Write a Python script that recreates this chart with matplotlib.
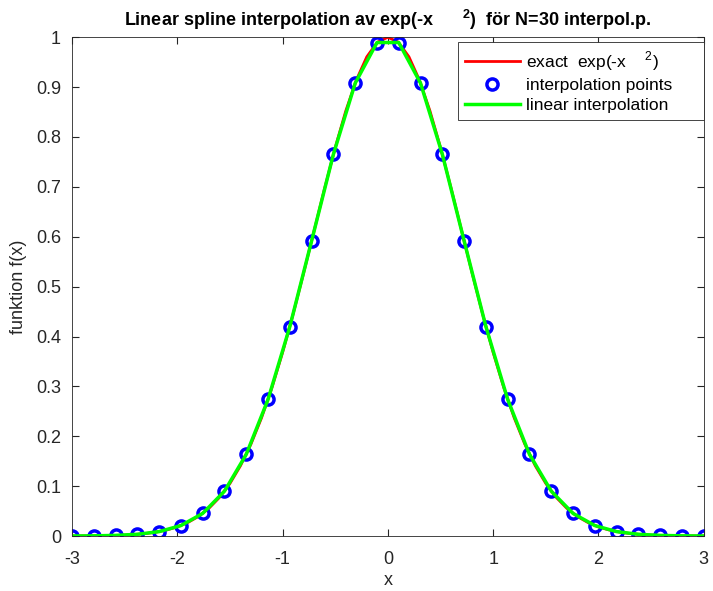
import numpy as np
import matplotlib.pyplot as plt

plt.rcParams['font.family'] = ['Liberation Sans', 'DejaVu Sans']
plt.rcParams['mathtext.fontset'] = 'custom'
plt.rcParams['mathtext.rm'] = 'Liberation Sans'
plt.rcParams['mathtext.bf'] = 'Liberation Sans:bold'
plt.rcParams['axes.unicode_minus'] = False

# exact curve exp(-x^2), read at x = 0, 0.1, ..., 3 (symmetric)
x_half = [0.0, 0.1, 0.2, 0.3, 0.4, 0.5, 0.6, 0.7, 0.8, 0.9, 1.0,
          1.1, 1.2, 1.3, 1.4, 1.5, 1.6, 1.7, 1.8, 1.9, 2.0,
          2.1, 2.2, 2.3, 2.4, 2.5, 2.6, 2.7, 2.8, 2.9, 3.0]
y_half = [1.0, 0.9900, 0.9608, 0.9139, 0.8521, 0.7788, 0.6977, 0.6126, 0.5273, 0.4449, 0.3679,
          0.2982, 0.2369, 0.1845, 0.1409, 0.1054, 0.0773, 0.0556, 0.0392, 0.0271, 0.0183,
          0.0122, 0.0079, 0.0050, 0.0032, 0.0019, 0.0012, 0.0007, 0.0004, 0.0002, 0.0001]

# interpolation points (left half, mirrored)
xp_half = [-3.0, -2.793, -2.586, -2.379, -2.172, -1.966, -1.759, -1.552,
           -1.345, -1.138, -0.931, -0.724, -0.517, -0.310, -0.103]
yp_half = [0.0001, 0.0004, 0.0013, 0.0035, 0.0089, 0.0210, 0.0453, 0.0899,
           0.1638, 0.2739, 0.4200, 0.5920, 0.7656, 0.9080, 0.9894]

x_exact = np.concatenate([-np.array(x_half[::-1]), np.array(x_half[1:])])
y_exact = np.concatenate([np.array(y_half[::-1]), np.array(y_half[1:])])
xp = np.concatenate([np.array(xp_half), -np.array(xp_half[::-1])])
yp = np.concatenate([np.array(yp_half), np.array(yp_half[::-1])])

fig = plt.figure(figsize=(7.13, 5.91), dpi=100)
ax = fig.add_axes([0.101, 0.093, 0.886, 0.844])

ax.plot(x_exact, y_exact, color='#ff0000', lw=2, label=r'exact  exp(-x    $^{2}$)')
ax.plot(xp, yp, 'o', color='#0000ff', mfc='none', mew=2.5, ms=8, label='interpolation points     ')
ax.plot(xp, yp, color='#00ff00', lw=2.5, label='linear interpolation')

ax.set_xlim(-3, 3)
ax.set_ylim(0, 1)
ax.set_xticks(np.arange(-3, 4, 1))
ax.set_yticks(np.arange(0, 1.01, 0.1))
ax.set_yticklabels(['0', '0.1', '0.2', '0.3', '0.4', '0.5', '0.6', '0.7', '0.8', '0.9', '1'])
ax.tick_params(direction='in', top=True, right=True, labelsize=13, colors='#262626', length=5)
ax.tick_params(axis='x', pad=11)
ax.tick_params(axis='y', pad=8)
for s in ax.spines.values():
    s.set_color('#262626')
    s.set_linewidth(0.6)

ax.set_xlabel('x', fontsize=13, color='#262626', labelpad=3)
ax.set_ylabel('funktion f(x)', fontsize=13, color='#262626', labelpad=6)
ax.set_title(r'Linear spline interpolation av exp(-x      $^{\mathbf{2}}$)  för N=30 interpol.p.',
             fontsize=13, fontweight='bold', color='black', pad=8)

leg = ax.legend(loc='upper right', bbox_to_anchor=(1.0, 0.99), fontsize=12.5,
                handlelength=3.2, borderaxespad=0.0,
                fancybox=False, edgecolor='#262626', framealpha=1, borderpad=0.4,
                labelspacing=0.3, handletextpad=0.35)
leg.get_frame().set_linewidth(0.6)

fig.savefig('out.png', dpi=100)
